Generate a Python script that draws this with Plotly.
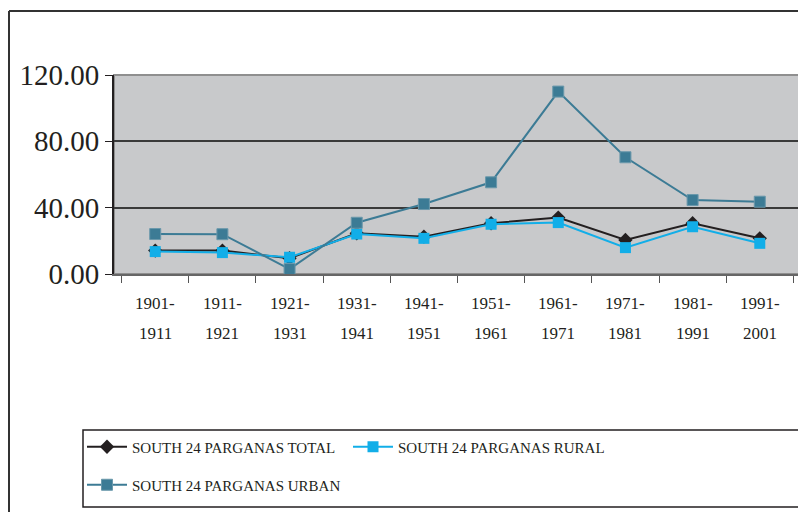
import plotly.graph_objects as go

periods_top = ["1901-", "1911-", "1921-", "1931-", "1941-", "1951-", "1961-", "1971-", "1981-", "1991-"]
periods_bottom = ["1911", "1921", "1931", "1941", "1951", "1961", "1971", "1981", "1991", "2001"]
categories = [a + b for a, b in zip(periods_top, periods_bottom)]

total = [14.1, 14.1, 9.5, 24.5, 22.5, 30.6, 34.0, 20.5, 30.6, 21.5]
rural = [13.5, 12.9, 10.1, 24.1, 21.5, 30.0, 31.0, 15.9, 28.5, 18.5]
urban = [24.1, 24.0, 3.0, 30.9, 42.2, 55.3, 110.0, 70.4, 44.6, 43.6]

y_ticks = [0, 40, 80, 120]

FONT = "Liberation Serif"
OFF = 8  # page body margin
W, H = 806, 512
# plot area in screen pixels: x 114..801, y 75..274
L = 114 - OFF
T = 75 - OFF
R = W - (801 - OFF)
B = H - (274 - OFF)
pw = W - L - R
ph = H - T - B

def px_x(x):
    return (x - OFF - L) / pw

def px_y(y):
    return (H - B - (y - OFF)) / ph

fig = go.Figure()
fig.add_trace(go.Scatter(
    x=categories, y=total, name="SOUTH 24 PARGANAS TOTAL", mode="lines+markers",
    line=dict(color="#231f20", width=2),
    marker=dict(symbol="diamond", size=11, color="#231f20"),
    legend="legend"))
fig.add_trace(go.Scatter(
    x=categories, y=rural, name="SOUTH 24 PARGANAS RURAL", mode="lines+markers",
    line=dict(color="#12aee8", width=2),
    marker=dict(symbol="square", size=11, color="#12aee8"),
    legend="legend3"))
fig.add_trace(go.Scatter(
    x=categories, y=urban, name="SOUTH 24 PARGANAS URBAN", mode="lines+markers",
    line=dict(color="#3c7b95", width=2),
    marker=dict(symbol="square", size=11, color="#3c7b95", line=dict(color="#6a98ab", width=1)),
    legend="legend2"))

annotations = []
for c, a, b in zip(categories, periods_top, periods_bottom):
    annotations.append(dict(x=c, xref="x", y=px_y(303), yref="paper", text=a, showarrow=False,
                            yanchor="middle", font=dict(family=FONT, size=17, color="#231f20")))
    annotations.append(dict(x=c, xref="x", y=px_y(333), yref="paper", text=b, showarrow=False,
                            yanchor="middle", font=dict(family=FONT, size=17, color="#231f20")))

shapes = [
    dict(type="rect", xref="paper", yref="paper", x0=0, x1=1, y0=0, y1=1,
         line=dict(color="#8f8f8f", width=2), layer="below"),
    dict(type="line", xref="paper", yref="paper", x0=px_x(9), x1=px_x(830), y0=px_y(11), y1=px_y(11),
         line=dict(color="#333333", width=2)),
    dict(type="line", xref="paper", yref="paper", x0=px_x(9), x1=px_x(9), y0=px_y(11), y1=px_y(540),
         line=dict(color="#333333", width=2)),
    dict(type="rect", xref="paper", yref="paper", x0=px_x(83), x1=px_x(840), y0=px_y(430), y1=px_y(507),
         line=dict(color="#231f20", width=1.5)),
]

leg_font = dict(family=FONT, size=15, color="#231f20")

fig.update_layout(
    width=W, height=H,
    margin=dict(l=L, r=R, t=T, b=B),
    paper_bgcolor="white",
    plot_bgcolor="#c8c9cb",
    font=dict(family=FONT, color="#231f20"),
    xaxis=dict(type="category", showticklabels=False, ticks="outside", tickson="boundaries",
               ticklen=7, tickcolor="#555555", showgrid=False, showline=True,
               linecolor="#666666", linewidth=2, zeroline=False, fixedrange=True),
    yaxis=dict(range=[0, 120], tickvals=y_ticks, tickformat=".2f", ticks="outside", ticklen=7,
               tickcolor="#231f20", showline=True, linecolor="#231f20", linewidth=2,
               showgrid=True, gridcolor="#3a3a3a", gridwidth=1.5, zeroline=False,
               tickfont=dict(family=FONT, size=29, color="#231f20")),
    showlegend=True,
    legend=dict(orientation="h", x=px_x(82), y=px_y(447), yanchor="middle", xanchor="left",
                font=leg_font, bgcolor="rgba(0,0,0,0)", itemwidth=40),
    legend3=dict(orientation="h", x=px_x(348), y=px_y(447), yanchor="middle", xanchor="left",
                 font=leg_font, bgcolor="rgba(0,0,0,0)", itemwidth=40),
    legend2=dict(orientation="h", x=px_x(82), y=px_y(485), yanchor="middle", xanchor="left",
                 font=leg_font, bgcolor="rgba(0,0,0,0)", itemwidth=40),
    annotations=annotations,
    shapes=shapes,
)

fig.write_html("out.html")
